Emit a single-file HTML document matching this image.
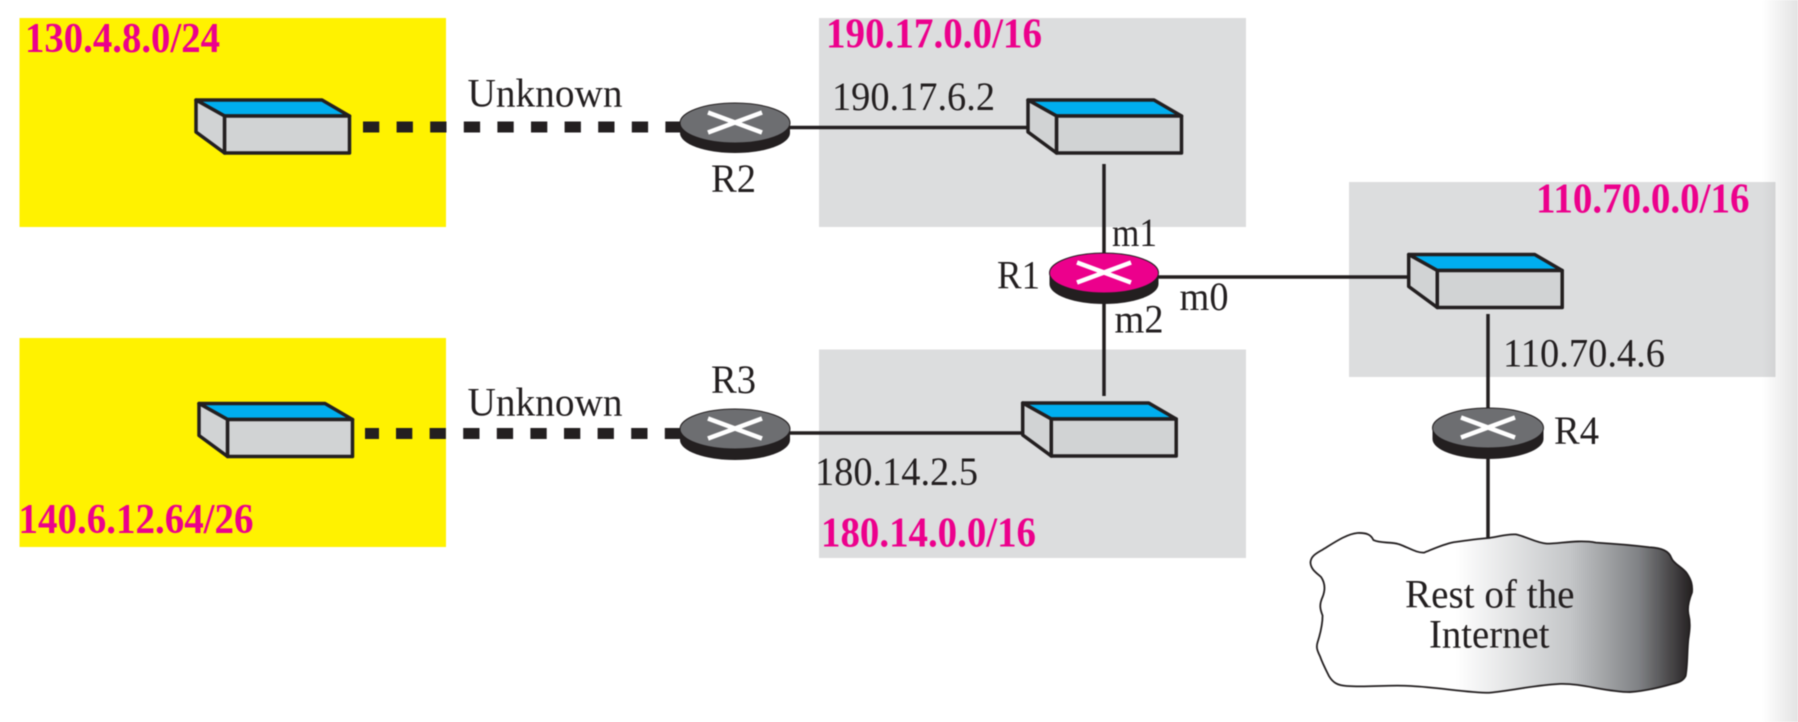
<!DOCTYPE html>
<html lang="en">
<head>
<meta charset="utf-8">
<title>Network diagram</title>
<style>
html,body{margin:0;padding:0;background:#fff;}
body{width:1798px;height:722px;overflow:hidden;}
svg{display:block;filter:blur(0.5px);}
text{font-family:"Liberation Serif",serif;fill:#231f20;font-size:40px;}
.p{font-weight:bold;fill:#ec008c;font-size:42px;}
</style>
</head>
<body>
<svg width="1798" height="722" viewBox="0 0 1798 722" xmlns="http://www.w3.org/2000/svg">
<defs>
  <linearGradient id="edge" x1="0" x2="1" y1="0" y2="0">
    <stop offset="0" stop-color="#000" stop-opacity="0"/>
    <stop offset="1" stop-color="#000" stop-opacity="0.11"/>
  </linearGradient>
  <linearGradient id="cloud" x1="0" x2="1" y1="0" y2="0">
    <stop offset="0" stop-color="#fff"/>
    <stop offset="0.38" stop-color="#fff"/>
    <stop offset="0.68" stop-color="#c4c6c8"/>
    <stop offset="0.86" stop-color="#808285"/>
    <stop offset="1" stop-color="#231f20"/>
  </linearGradient>
  <g id="sw" stroke="#231f20" stroke-width="3.5" stroke-linejoin="round">
    <polygon points="0,0.500 126,0.500 153.500,16.500 28.600,16.500" fill="#00aeef"/>
    <polygon points="0,0.500 28.600,16.500 28.600,53.500 0,32.500" fill="#d1d3d4"/>
    <rect x="28.600" y="16.500" width="124.900" height="37" fill="#d1d3d4"/>
  </g>
  <g id="rt-x" stroke="#fff" stroke-width="4.500" fill="none">
    <line x1="-27" y1="-10" x2="27" y2="10"/>
    <line x1="-27" y1="10" x2="27" y2="-10"/>
  </g>
</defs>

<rect width="1798" height="722" fill="#fff"/>

<!-- areas -->
<rect x="19.500" y="18" width="426.500" height="209" fill="#fff200"/>
<rect x="19.500" y="338" width="426.500" height="209" fill="#fff200"/>
<rect x="819" y="18" width="427" height="209" fill="#dcddde"/>
<rect x="819" y="349.500" width="427" height="208.500" fill="#dcddde"/>
<rect x="1349" y="182" width="426.500" height="195" fill="#dcddde"/>

<!-- dashed links -->
<line x1="363" y1="127" x2="680" y2="127" stroke="#231f20" stroke-width="11" stroke-dasharray="16.300 17.300"/>
<rect x="365" y="428" width="14" height="11" fill="#231f20"/>
<line x1="396" y1="433.500" x2="680" y2="433.500" stroke="#231f20" stroke-width="11" stroke-dasharray="16.300 17.300"/>

<!-- solid links -->
<g stroke="#231f20" stroke-width="3.500" fill="none">
  <line x1="785" y1="127.500" x2="1028" y2="127.500"/>
  <line x1="785" y1="433" x2="1023" y2="433"/>
  <line x1="1104" y1="164" x2="1104" y2="255"/>
  <line x1="1104" y1="300" x2="1104" y2="396"/>
  <line x1="1155" y1="277" x2="1409" y2="277"/>
  <line x1="1488" y1="314" x2="1488" y2="410"/>
  <line x1="1488" y1="455" x2="1488" y2="539"/>
</g>

<!-- switches -->
<use href="#sw" x="196" y="99.500"/>
<use href="#sw" x="1028" y="99.500"/>
<use href="#sw" x="199" y="403"/>
<use href="#sw" x="1022.700" y="402.500"/>
<use href="#sw" x="1408.700" y="254"/>

<!-- routers -->
<g>
  <path d="M680,123v10a55,20 0 0 0 110,0V123z" fill="#231f20"/>
  <ellipse cx="735" cy="123" rx="55" ry="20" fill="#6d6e71" stroke="#231f20" stroke-width="1"/>
  <use href="#rt-x" x="735" y="122.500"/>
</g>
<g>
  <path d="M680,429v11a55,20 0 0 0 110,0V429z" fill="#231f20"/>
  <ellipse cx="735" cy="429" rx="55" ry="20" fill="#6d6e71" stroke="#231f20" stroke-width="1"/>
  <use href="#rt-x" x="735" y="428.500"/>
</g>
<g>
  <path d="M1049.500,273v11a54.500,20 0 0 0 109,0V273z" fill="#231f20"/>
  <ellipse cx="1104" cy="273" rx="54.500" ry="20" fill="#ec008c" stroke="#231f20" stroke-width="1"/>
  <use href="#rt-x" x="1104" y="272.500"/>
</g>
<g>
  <path d="M1432.500,428v11a55.500,20 0 0 0 111,0V428z" fill="#231f20"/>
  <ellipse cx="1488" cy="428" rx="55.500" ry="20" fill="#6d6e71" stroke="#231f20" stroke-width="1"/>
  <use href="#rt-x" x="1488" y="427.500"/>
</g>

<!-- cloud -->
<g transform="translate(1240,160) scale(0.3559)">
  <path d="M198,1130 C200,1112 215,1105 232,1095 C260,1078 300,1050 330,1048 C355,1047 368,1052 375,1068 C395,1078 425,1072 448,1080 C475,1090 498,1105 518,1103 C545,1092 570,1080 600,1074 C640,1068 670,1064 700,1062 C730,1058 750,1050 775,1052 C805,1058 830,1075 862,1078 C900,1078 950,1066 1000,1075 C1050,1078 1100,1082 1150,1088 C1185,1090 1205,1098 1212,1118 C1218,1135 1245,1145 1256,1162 C1268,1180 1272,1195 1270,1215 C1262,1235 1256,1255 1260,1275 C1266,1300 1264,1320 1260,1345 C1256,1380 1258,1420 1252,1450 C1245,1465 1230,1468 1215,1472 C1180,1482 1140,1492 1095,1495 C1030,1495 960,1470 900,1472 C830,1475 770,1490 700,1497 C640,1497 560,1482 480,1478 C420,1474 360,1482 300,1478 C275,1476 262,1470 250,1450 C240,1430 232,1415 225,1395 C218,1380 213,1370 218,1355 C226,1330 232,1305 232,1280 C225,1262 222,1250 232,1228 C240,1208 240,1190 228,1172 C215,1160 198,1150 198,1130 Z" fill="url(#cloud)" stroke="#231f20" stroke-width="5"/>
</g>

<!-- labels -->
<text class="p" x="25" y="52" textLength="195" lengthAdjust="spacingAndGlyphs">130.4.8.0/24</text>
<text class="p" x="826" y="47.500" textLength="216" lengthAdjust="spacingAndGlyphs">190.17.0.0/16</text>
<text class="p" x="1536" y="212.500" textLength="213.500" lengthAdjust="spacingAndGlyphs">110.70.0.0/16</text>
<text class="p" x="821" y="546.500" textLength="215" lengthAdjust="spacingAndGlyphs">180.14.0.0/16</text>
<text class="p" x="18.500" y="533" textLength="235" lengthAdjust="spacingAndGlyphs">140.6.12.64/26</text>

<text x="467.500" y="106.500" textLength="155" lengthAdjust="spacingAndGlyphs">Unknown</text>
<text x="467.500" y="415.500" textLength="155" lengthAdjust="spacingAndGlyphs">Unknown</text>
<text x="832" y="110" textLength="163" lengthAdjust="spacingAndGlyphs">190.17.6.2</text>
<text x="815" y="485" textLength="163" lengthAdjust="spacingAndGlyphs">180.14.2.5</text>
<text x="1503" y="366.500" textLength="162" lengthAdjust="spacingAndGlyphs">110.70.4.6</text>
<text x="711" y="192" textLength="45" lengthAdjust="spacingAndGlyphs">R2</text>
<text x="711" y="393" textLength="45" lengthAdjust="spacingAndGlyphs">R3</text>
<text x="997" y="288.500" textLength="43" lengthAdjust="spacingAndGlyphs">R1</text>
<text x="1554" y="444" textLength="45" lengthAdjust="spacingAndGlyphs">R4</text>
<text x="1112" y="246" textLength="45" lengthAdjust="spacingAndGlyphs">m1</text>
<text x="1179.500" y="310" textLength="49" lengthAdjust="spacingAndGlyphs">m0</text>
<text x="1114.500" y="332.500" textLength="49" lengthAdjust="spacingAndGlyphs">m2</text>
<text x="1405" y="607.500" textLength="169.500" lengthAdjust="spacingAndGlyphs">Rest of the</text>
<text x="1429" y="647.500" textLength="120.500" lengthAdjust="spacingAndGlyphs">Internet</text>

<!-- right page edge shading -->
<rect x="1762" y="0" width="36" height="722" fill="url(#edge)"/>
</svg>
</body>
</html>
